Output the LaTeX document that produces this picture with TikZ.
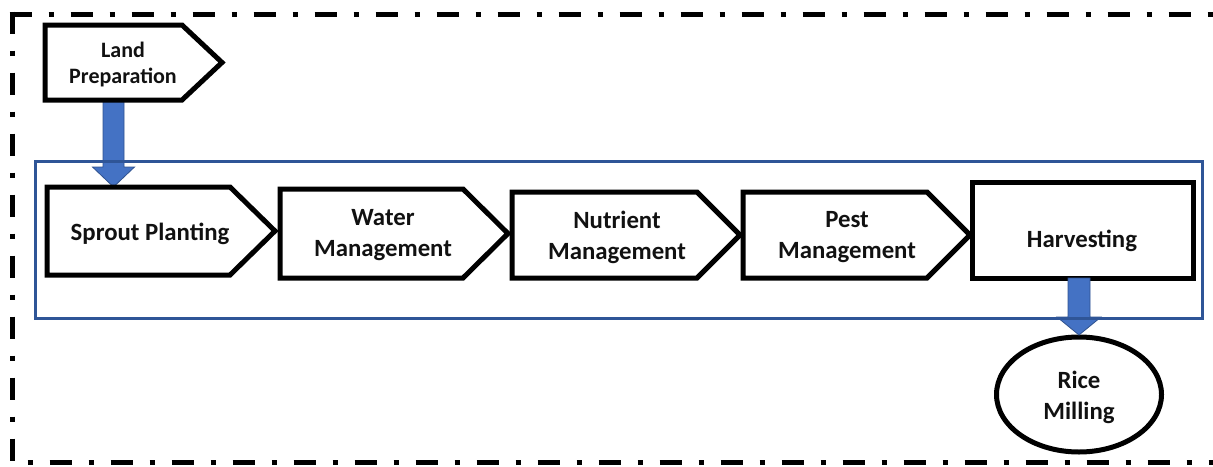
\documentclass[tikz,border=0pt]{standalone}
\usepackage{fontspec}
\setmainfont{Carlito}
\usetikzlibrary{calc,shapes.geometric}
\definecolor{grpblue}{HTML}{2F5597}
\definecolor{arrfill}{HTML}{4472C4}
\definecolor{arredge}{HTML}{2F528F}
\definecolor{txt}{HTML}{111111}
\newcommand\stepshape[2]{\draw[outline] (#1.north west) -- (#1.north east) -- ($(#1.east)+(#2,0)$) -- (#1.south east) -- (#1.south west) -- cycle;}
\newcommand\blockarr[4]{% start, end, half shaft, head length
  \draw[blockarrow] ($(#1)+(-#3,0)$) -- ($(#2)+(-#3,-#4)$) -- ($(#2)+(-2*#3,-#4)$) -- (#2) -- ($(#2)+(2*#3,-#4)$) -- ($(#2)+(#3,-#4)$) -- ($(#1)+(#3,0)$) -- cycle;}
\begin{document}
\begin{tikzpicture}[x=1pt,y=-1pt,
  outline/.style={draw=black, line width=5pt, line join=miter},
  body/.style={draw=none, inner sep=0pt, outer sep=0pt, rectangle},
  steptext/.style={font=\bfseries\fontsize{24.8}{31}\selectfont, align=center, inner sep=0pt, text=txt},
  smalltext/.style={font=\bfseries\fontsize{22}{26}\selectfont},
  group/.style={draw=grpblue, line width=3pt},
  border/.style={line width=5pt, line cap=butt, dash pattern=on 22pt off 17pt on 5pt off 17pt},
  blockarrow/.style={fill=arrfill, draw=arredge, line width=0.8pt, line join=miter}]
\useasboundingbox (0,0) rectangle (1213,466);
% outer dash-dot frame
\begin{scope}
  \clip (0,0) rectangle (1213,466);
  \draw[border] (9.5,14) -- (1240,14);
  \draw[border] (12,11.5) -- (12,462) -- (1240,462);
\end{scope}
% step bodies
\node[body, minimum width=137pt, minimum height=75pt] (lp) at (113.5,62.5) {};
\node[body, minimum width=183pt, minimum height=88pt] (sp) at (138.5,231) {};
\node[body, minimum width=183pt, minimum height=89pt] (wm) at (371.5,233.5) {};
\node[body, minimum width=185pt, minimum height=86pt] (nm) at (604.5,235) {};
\node[body, minimum width=184pt, minimum height=86pt] (pm) at (835,235) {};
\node[body, draw=black, line width=5pt, minimum width=221pt, minimum height=96pt] (hv) at (1082.5,230) {};
\node[ellipse, draw=black, line width=5pt, inner sep=0pt, outer sep=0pt, minimum width=165pt, minimum height=115pt] (rm) at (1079,394.5) {};
% block arrows
\coordinate (a1s) at (lp.south);
\coordinate (a1e) at (lp.south |- sp.north);
\blockarr{a1s}{a1e}{10.5}{20}
\coordinate (a2s) at (rm.north |- hv.south);
\coordinate (a2e) at ($(rm.north)+(0,-2)$);
\blockarr{a2s}{a2e}{11}{18}
% group frame
\draw[group] (35,161) rectangle (1202,318);
% outlines
\stepshape{lp}{40}
\stepshape{sp}{45}
\stepshape{wm}{45}
\stepshape{nm}{43}
\stepshape{pm}{43}
% texts
\node[steptext, smalltext] (lpt) at (123,65) {Land\\Preparation};
\node[steptext] (spt) at (150,234) {Sprout Planting};
\node[steptext] (wmt) at (383,235) {Water\\Management};
\node[steptext] (nmt) at (617,237) {Nutrient\\Management};
\node[steptext] (pmt) at (847,237) {Pest\\Management};
\node[steptext] (hvt) at (1082,241) {Harvesting};
\node[steptext] (rmt) at (1079,397) {Rice\\Milling};
\end{tikzpicture}
\end{document}
